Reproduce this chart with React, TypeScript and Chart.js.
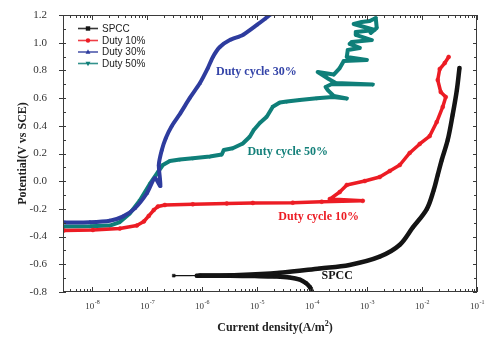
import { useEffect, useRef } from "react";
import { Chart, registerables } from "chart.js";

Chart.register(...registerables);

// ---------- data ----------
const seriesNames = ["SPCC", "Duty 10%", "Duty 30%", "Duty 50%"];

const spccCurrent = [
  1.0e-4, 9.1e-5, 7.7e-5, 6.0e-5, 3.9e-5, 2.1e-5, 9.1e-6, 3.2e-6, 8.0e-7, 3.05e-7,
  9.1e-7, 4.8e-6, 2.6e-5, 1.38e-4, 4.8e-4, 1.7e-3, 3.9e-3, 6.8e-3, 1.22e-2, 1.63e-2,
  1.93e-2, 2.28e-2, 2.93e-2, 3.6e-2, 4.3e-2, 4.8e-2,
];
const spccPotential = [
  -0.8, -0.764, -0.735, -0.71, -0.695, -0.688, -0.685, -0.683, -0.682, -0.682,
  -0.681, -0.677, -0.661, -0.63, -0.605, -0.545, -0.461, -0.334, -0.201, -0.064,
  0.045, 0.153, 0.297, 0.478, 0.658, 0.817,
];

const duty10Current = [
  3.06e-9, 1.03e-8, 3.19e-8, 6.5e-8, 8.71e-8, 1.07e-7, 1.32e-7, 1.57e-7, 2.1e-7, 6.78e-7,
  2.81e-6, 8.36e-6, 4.46e-5, 1.5e-4, 8.36e-4, 2.1e-4, 3.19e-4, 4.28e-4, 9.08e-4, 1.7e-3,
  2.59e-3, 3.94e-3, 5.97e-3, 9.08e-3, 1.38e-2, 1.85e-2, 2.38e-2, 2.7e-2, 2.19e-2, 1.93e-2,
  2.1e-2, 2.59e-2, 3.05e-2,
];
const duty10Potential = [
  -0.356, -0.352, -0.342, -0.32, -0.291, -0.251, -0.208, -0.183, -0.172, -0.167,
  -0.161, -0.157, -0.155, -0.148, -0.142, -0.129, -0.078, -0.027, 0.001, 0.03,
  0.074, 0.117, 0.204, 0.269, 0.326, 0.427, 0.536, 0.608, 0.644, 0.731,
  0.81, 0.853, 0.897,
];

const duty30Current = [
  3.19e-9, 9.1e-9, 2.1e-8, 3.6e-8, 5.97e-8, 9.9e-8, 1.38e-7, 1.74e-7, 1.63e-7, 1.85e-7,
  2.19e-7, 2.81e-7, 3.94e-7, 5.97e-7, 9.08e-7, 1.27e-6, 1.57e-6, 2.1e-6, 3.19e-6, 5.5e-6,
  9.9e-6, 1.38e-5, 1.7e-5,
];
const duty30Potential = [
  -0.298, -0.296, -0.285, -0.256, -0.196, -0.087, 0.023, -0.035, 0.117, 0.225,
  0.312, 0.399, 0.485, 0.601, 0.707, 0.817, 0.897, 0.969, 1.019, 1.056,
  1.128, 1.171, 1.2,
];

const duty50Current = [
  3.06e-9, 9.1e-9, 2.1e-8, 3.19e-8, 4.84e-8, 7.36e-8, 1.12e-7, 1.57e-7, 1.93e-7, 2.59e-7,
  3.94e-7, 6.78e-7, 1.38e-6, 2.28e-6, 2.48e-6, 3.61e-6, 5.5e-6, 7.36e-6, 8.7e-6, 1.12e-5,
  1.5e-5, 1.93e-5, 2.59e-5, 3.47e-5, 5.97e-5, 1.22e-4, 2.38e-4, 4.28e-4, 2.48e-4, 1.93e-4,
  1.77e-4, 2.28e-4, 1.27e-3, 2.7e-4, 2.01e-4, 1.27e-4, 2.48e-4, 3.19e-4, 3.77e-4, 9.9e-4,
  4.28e-4, 4.46e-4, 7.36e-4, 4.84e-4, 5.27e-4, 1.22e-3, 6.24e-4, 6.24e-4, 1.38e-3, 5.73e-4,
  8.0e-4, 1.12e-3, 1.44e-3, 1.5e-3, 1.17e-3,
];
const duty50Potential = [
  -0.327, -0.325, -0.32, -0.295, -0.233, -0.139, -0.02, 0.066, 0.117, 0.146,
  0.157, 0.165, 0.178, 0.193, 0.225, 0.238, 0.272, 0.321, 0.37, 0.42,
  0.466, 0.538, 0.568, 0.575, 0.586, 0.599, 0.608, 0.597, 0.615, 0.658,
  0.68, 0.702, 0.698, 0.709, 0.738, 0.788, 0.77, 0.817, 0.868, 0.875,
  0.897, 0.947, 0.962, 0.991, 1.005, 1.019, 1.056, 1.077, 1.092, 1.135,
  1.149, 1.157, 1.178, 1.106, 1.07,
];

const yTickValues = [-0.8, -0.7, -0.6, -0.5, -0.4, -0.3, -0.2, -0.1, 0, 0.1, 0.2, 0.3, 0.4, 0.5, 0.6, 0.7, 0.8, 0.9, 1.0, 1.1, 1.2];
const xTickExponents = [-8, -7, -6, -5, -4, -3, -2, -1];

const annotationTexts = ["Duty cycle 30%", "Duty cycle 50%", "Duty cycle 10%", "SPCC"];
const annotationCurrent = [9.7e-6, 3.61e-5, 1.32e-4, 2.87e-4];
const annotationPotential = [0.791, 0.213, -0.256, -0.684];

// ---------- styles ----------
const colors = ["#141414", "#ec1c24", "#2e3c9e", "#0f7f79"];
const annoColors = ["#3444a8", "#14807a", "#ec1c24", "#141414"];
const pointStyles = ["rect", "circle", "triangle", "triangle"];
const pointRotations = [0, 0, 0, 180];
const lineWidths = [4.5, 3.5, 4, 4];
const tensions = [0.35, 0, 0.2, 0];
const serif = '"Liberation Serif", "Times New Roman", serif';
const sans = '"Liberation Sans", Arial, sans-serif';

const toPoints = (xs: number[], ys: number[]) => xs.map((x, i) => ({ x, y: ys[i] }));

function drawMarker(ctx: CanvasRenderingContext2D, style: string, rot: number, x: number, y: number, r: number, color: string) {
  ctx.save();
  ctx.fillStyle = color;
  ctx.beginPath();
  if (style === "rect") {
    ctx.rect(x - r, y - r, 2 * r, 2 * r);
  } else if (style === "circle") {
    ctx.arc(x, y, r, 0, Math.PI * 2);
  } else {
    const s = rot === 180 ? -1 : 1;
    ctx.moveTo(x, y - s * r * 1.2);
    ctx.lineTo(x - r * 1.1, y + s * r * 0.8);
    ctx.lineTo(x + r * 1.1, y + s * r * 0.8);
    ctx.closePath();
  }
  ctx.fill();
  ctx.restore();
}

const decorPlugin = {
  id: "decor",
  afterDraw(chart: any) {
    const { ctx, chartArea } = chart;
    const xs = chart.scales.x;
    const ys = chart.scales.y;
    const { left, right, top, bottom } = chartArea;
    ctx.save();

    // frame
    ctx.strokeStyle = "#3a3a3a";
    ctx.lineWidth = 1;
    ctx.strokeRect(left + 0.5, top + 0.5, right - left - 1, bottom - top - 1);

    // y ticks
    ctx.beginPath();
    yTickValues.forEach((v) => {
      const py = Math.round(ys.getPixelForValue(v)) + 0.5;
      const major = Math.round(v * 10) % 2 === 0;
      if (major) {
        ctx.moveTo(left - 4, py); ctx.lineTo(left + 3, py);
        ctx.moveTo(right - 4, py); ctx.lineTo(right, py);
      } else {
        ctx.moveTo(left, py); ctx.lineTo(left + 3, py);
        ctx.moveTo(right - 3, py); ctx.lineTo(right, py);
      }
    });
    // x ticks (major + minor)
    for (let e = -9; e <= -1; e++) {
      for (let m = 1; m <= 9; m++) {
        const v = m * Math.pow(10, e);
        if (v < xs.min || v > xs.max * 1.0001) continue;
        const px = Math.round(xs.getPixelForValue(v)) + 0.5;
        const len = m === 1 ? 5 : 3;
        ctx.moveTo(px, bottom); ctx.lineTo(px, bottom - len);
        ctx.moveTo(px, top); ctx.lineTo(px, top + len);
      }
    }
    ctx.stroke();

    // x tick labels: 10^n
    ctx.fillStyle = "#333";
    ctx.textBaseline = "alphabetic";
    xTickExponents.forEach((n) => {
      const px = xs.getPixelForValue(Math.pow(10, n));
      ctx.font = `9px ${serif}`;
      const base = "10";
      const wb = ctx.measureText(base).width;
      ctx.font = `6px ${serif}`;
      const sup = String(n);
      const we = ctx.measureText(sup).width;
      const x0 = px - (wb + we) / 2;
      ctx.font = `9px ${serif}`;
      ctx.fillText(base, x0, bottom + 17);
      ctx.font = `6px ${serif}`;
      ctx.fillText(sup, x0 + wb + 0.5, bottom + 12);
    });

    // x title with superscript
    {
      ctx.fillStyle = "#222";
      const partA = "Current density(A/m";
      const partSup = "2";
      const partB = ")";
      ctx.font = `bold 12px ${serif}`;
      const wa = ctx.measureText(partA).width;
      const wbb = ctx.measureText(partB).width;
      ctx.font = `bold 8px ${serif}`;
      const ws = ctx.measureText(partSup).width;
      const total = wa + ws + wbb;
      const cx = 275;
      const x0 = cx - total / 2;
      const yb = bottom + 39;
      ctx.font = `bold 12px ${serif}`;
      ctx.fillText(partA, x0, yb);
      ctx.font = `bold 8px ${serif}`;
      ctx.fillText(partSup, x0 + wa, yb - 5);
      ctx.font = `bold 12px ${serif}`;
      ctx.fillText(partB, x0 + wa + ws, yb);
    }

    // annotations
    ctx.textAlign = "center";
    ctx.textBaseline = "middle";
    ctx.font = `bold 12px ${serif}`;
    annotationTexts.forEach((t, i) => {
      ctx.fillStyle = annoColors[i];
      ctx.fillText(t, xs.getPixelForValue(annotationCurrent[i]), ys.getPixelForValue(annotationPotential[i]));
    });

    // legend
    ctx.textAlign = "left";
    ctx.textBaseline = "middle";
    ctx.font = `10px ${sans}`;
    const lx = left + 15;
    const rowY = [top + 13.5, top + 25.5, top + 37, top + 48.5];
    seriesNames.forEach((name, i) => {
      const y = rowY[i];
      ctx.strokeStyle = colors[i];
      ctx.globalAlpha = 0.85;
      ctx.lineWidth = 1.6;
      ctx.beginPath();
      ctx.moveTo(lx, y);
      ctx.lineTo(lx + 20, y);
      ctx.stroke();
      ctx.globalAlpha = 1;
      drawMarker(ctx, pointStyles[i], pointRotations[i], lx + 10, y, 2.2, colors[i]);
      ctx.fillStyle = "#222";
      ctx.fillText(name, lx + 24, y + 0.5);
    });

    ctx.restore();
  },
};

export default function App() {
  const ref = useRef<HTMLCanvasElement | null>(null);

  useEffect(() => {
    if (!ref.current) return;
    const seriesData = [
      toPoints(spccCurrent, spccPotential),
      toPoints(duty10Current, duty10Potential),
      toPoints(duty30Current, duty30Potential),
      toPoints(duty50Current, duty50Potential),
    ];
    const datasets: any[] = seriesData.map((data, i) => ({
      label: seriesNames[i],
      data,
      showLine: true,
      borderColor: colors[i],
      backgroundColor: colors[i],
      borderWidth: lineWidths[i],
      borderJoinStyle: "round",
      borderCapStyle: "round",
      pointStyle: pointStyles[i],
      rotation: pointRotations[i],
      pointRadius: 2,
      pointBorderWidth: 0.5,
      tension: tensions[i],
    }));
    datasets[0].segment = {
      borderWidth: (c: any) => (c.p0.parsed.x < 1e-6 && c.p1.parsed.x < 1e-6 ? 1.2 : 4.5),
    };

    const chart = new Chart(ref.current, {
      type: "scatter",
      data: { datasets },
      plugins: [decorPlugin],
      options: {
        animation: false,
        responsive: false,
        devicePixelRatio: 1,
        layout: { padding: { top: 15, right: 23, left: 0, bottom: 0 } },
        plugins: { legend: { display: false }, tooltip: { enabled: false } },
        scales: {
          x: {
            type: "logarithmic",
            min: 2.95e-9,
            max: 0.1,
            afterFit: (s: any) => { s.height = 53; },
            grid: { display: false },
            border: { display: false },
            ticks: { display: false },
          },
          y: {
            type: "linear",
            min: -0.8,
            max: 1.2,
            afterFit: (s: any) => { s.width = 63; },
            grid: { display: false },
            border: { display: false },
            ticks: {
              stepSize: 0.1,
              autoSkip: false,
              padding: 8,
              color: "#333",
              font: { family: serif, size: 11 },
              callback: (v: any) => {
                const n = Math.round(Number(v) * 10);
                return n % 2 === 0 ? (n / 10).toFixed(1) : "";
              },
            },
            title: {
              display: true,
              text: "Potential(V vs SCE)",
              color: "#222",
              font: { family: serif, size: 12, weight: "bold" },
              padding: { top: 15.5, bottom: 0 },
            },
          },
        },
      } as any,
    });
    return () => chart.destroy();
  }, []);

  return (
    <div style={{ position: "fixed", left: 0, top: 0, width: 500, height: 345, background: "#fff" }}>
      <canvas ref={ref} width={500} height={345} style={{ width: 500, height: 345, display: "block" }} />
    </div>
  );
}
